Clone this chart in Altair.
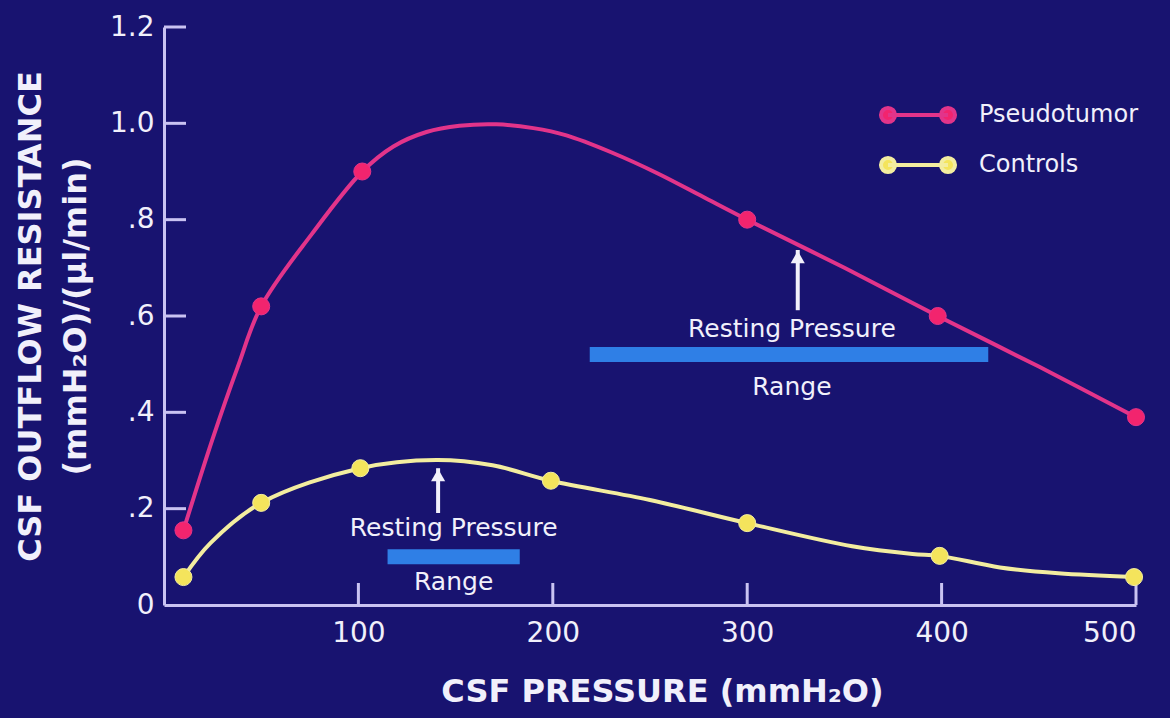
import altair as alt
import pandas as pd

# ---- data -------------------------------------------------------------
SERIES = ["Pseudotumor", "Controls"]

# measured points (CSF pressure, outflow resistance)
pseudo_x = [10, 50, 102, 300, 398, 500]
pseudo_y = [0.155, 0.62, 0.90, 0.80, 0.60, 0.39]
ctrl_x = [10, 50, 101, 199, 300, 399, 499]
ctrl_y = [0.058, 0.212, 0.284, 0.258, 0.17, 0.102, 0.058]

# smooth fitted curves drawn through the measurements
pseudo_curve_x = [10, 25, 38, 50, 76, 102, 118, 135, 152, 171, 190, 207,
                  230, 254, 277, 300, 350, 398, 450, 500]
pseudo_curve_y = [0.155, 0.345, 0.495, 0.62, 0.77, 0.90, 0.952, 0.982, 0.995,
                  0.998, 0.99, 0.975, 0.94, 0.896, 0.848, 0.80, 0.70, 0.60,
                  0.495, 0.39]
ctrl_curve_x = [10, 24, 50, 101, 140, 169, 199, 250, 300, 354, 385, 399,
                430, 460, 499]
ctrl_curve_y = [0.058, 0.129, 0.212, 0.284, 0.301, 0.29, 0.258, 0.218,
                0.17, 0.122, 0.106, 0.102, 0.078, 0.066, 0.058]

# resting pressure ranges (upper: pseudotumor, lower: controls)
range_lo = [219, 115]
range_hi = [424, 183]
range_y = [0.52, 0.10]
arrow_x = [326, 141]
arrow_tail = [0.612, 0.191]
arrow_head = [0.737, 0.284]
label_x = [323, 149]
resting_label_y = [0.573, 0.160]
range_label_y = [0.452, 0.048]

x_ticks = [100, 200, 300, 400, 500]
y_ticks = [0.2, 0.4, 0.6, 0.8, 1.0, 1.2]
y_labels = [0, 0.2, 0.4, 0.6, 0.8, 1.0, 1.2]

# ---- styling ----------------------------------------------------------
BG = "#181370"
AXIS_COL = "#c9c3f2"
TEXT_COL = "#f1f0fb"
LINE_COLS = ["#e2348a", "#f3eda0"]
DOT_COLS = ["#f2246e", "#f4e45c"]
BAR_COL = "#2f7fe6"
FONT = "DejaVu Sans"
W, H = 972, 578
TICK = 22

LEGEND_SYMBOL = ("M-2,0L2,0"
                 "M-2.47,0A0.47,0.47,0,1,0,-1.53,0A0.47,0.47,0,1,0,-2.47,0Z"
                 "M1.53,0A0.47,0.47,0,1,0,2.47,0A0.47,0.47,0,1,0,1.53,0Z")

curves = pd.concat([
    pd.DataFrame({"p": pseudo_curve_x, "r": pseudo_curve_y, "series": SERIES[0]}),
    pd.DataFrame({"p": ctrl_curve_x, "r": ctrl_curve_y, "series": SERIES[1]}),
])
points = pd.concat([
    pd.DataFrame({"p": pseudo_x, "r": pseudo_y, "series": SERIES[0]}),
    pd.DataFrame({"p": ctrl_x, "r": ctrl_y, "series": SERIES[1]}),
])
ranges = pd.DataFrame({
    "lo": range_lo, "hi": range_hi, "y": range_y,
    "ax": arrow_x, "tail": arrow_tail, "head": arrow_head,
    "lx": label_x, "ly1": resting_label_y, "ly2": range_label_y,
})

x_scale = alt.Scale(domain=[0, 500], nice=False, zero=True)
y_scale = alt.Scale(domain=[0, 1.2], nice=False, zero=True)

x_axis = alt.Axis(
    values=x_ticks, ticks=False, grid=False,
    domainColor=AXIS_COL, domainWidth=3,
    labelColor=TEXT_COL, labelFont=FONT, labelFontSize=28, labelPadding=14,
    title="CSF PRESSURE (mmH₂O)", titleColor=TEXT_COL, titleFont=FONT,
    titleFontSize=32, titleFontWeight="bold",
    titleX=498, titleY=86, titleAlign="center", titleBaseline="middle",
)
y_axis = alt.Axis(
    values=y_labels, ticks=False, grid=False,
    domainColor=AXIS_COL, domainWidth=3,
    labelColor=TEXT_COL, labelFont=FONT, labelFontSize=28, labelPadding=10,
    labelExpr="datum.value == 0 ? '0' : (datum.value >= 1 ? format(datum.value, '.1f') : slice(format(datum.value, '.1f'), 1))",
    title=["CSF OUTFLOW RESISTANCE", "(mmH₂O)/(µl/min)"],
    titleColor=TEXT_COL, titleFont=FONT, titleFontSize=32,
    titleFontWeight="bold", titleAngle=270, titleX=-134, titleY=289,
    titleAlign="center", titleBaseline="middle", titleLineHeight=45,
)

stroke_scale = alt.Scale(domain=SERIES, range=LINE_COLS)
fill_scale = alt.Scale(domain=SERIES, range=DOT_COLS)
legend = alt.Legend(
    title=None, orient="none", direction="vertical",
    legendX=737, legendY=71, padding=0,
    symbolType=LEGEND_SYMBOL, symbolSize=900, symbolStrokeWidth=4,
    symbolOffset=0, labelOffset=44, rowPadding=17,
    labelFont=FONT, labelFontSize=24, labelColor=TEXT_COL,
)

lines = alt.Chart(curves).mark_line(interpolate="catmull-rom", strokeWidth=4).encode(
    x=alt.X("p:Q", scale=x_scale, axis=x_axis),
    y=alt.Y("r:Q", scale=y_scale, axis=y_axis),
    stroke=alt.Stroke("series:N", scale=stroke_scale, legend=legend),
    detail="series:N",
)

dots = alt.Chart(points).mark_point(filled=True, size=290, opacity=1, strokeWidth=1).encode(
    x="p:Q",
    y="r:Q",
    fill=alt.Fill("series:N", scale=fill_scale, legend=legend),
    stroke=alt.Stroke("series:N", scale=stroke_scale, legend=legend),
)

bars = alt.Chart(ranges).mark_rule(strokeWidth=15, color=BAR_COL, strokeCap="butt").encode(
    x="lo:Q", x2="hi", y="y:Q",
)
shafts = alt.Chart(ranges).mark_rule(strokeWidth=4, color=TEXT_COL).encode(
    x="ax:Q", y="tail:Q", y2="head",
)
heads = alt.Chart(ranges).mark_point(
    shape="triangle-up", filled=True, size=200, color=TEXT_COL, opacity=1, yOffset=7
).encode(x="ax:Q", y="head:Q")

text_style = dict(font=FONT, fontSize=25, color=TEXT_COL, align="center", baseline="middle")
resting_txt = alt.Chart(ranges).mark_text(**text_style).encode(
    x="lx:Q", y="ly1:Q", text=alt.value("Resting Pressure"))
range_txt = alt.Chart(ranges).mark_text(**text_style).encode(
    x="lx:Q", y="ly2:Q", text=alt.value("Range"))

# inward-pointing axis ticks
y_tick_marks = alt.Chart(pd.DataFrame({"v": y_ticks})).mark_rule(
    color=AXIS_COL, strokeWidth=3).encode(
    y="v:Q", x=alt.value(0), x2=alt.value(TICK))
x_tick_marks = alt.Chart(pd.DataFrame({"v": x_ticks})).mark_rule(
    color=AXIS_COL, strokeWidth=3).encode(
    x="v:Q", y=alt.value(H), y2=alt.value(H - TICK))

chart = alt.layer(
    y_tick_marks, x_tick_marks, bars, shafts, heads, resting_txt, range_txt,
    lines, dots,
).properties(
    width=W, height=H,
    background=BG,
    padding={"left": 164, "top": 27, "right": 34, "bottom": 113},
    autosize=alt.AutoSizeParams(type="none"),
).configure_view(strokeWidth=0)

chart.save("out.html", embed_options={"renderer": "svg", "actions": False})
